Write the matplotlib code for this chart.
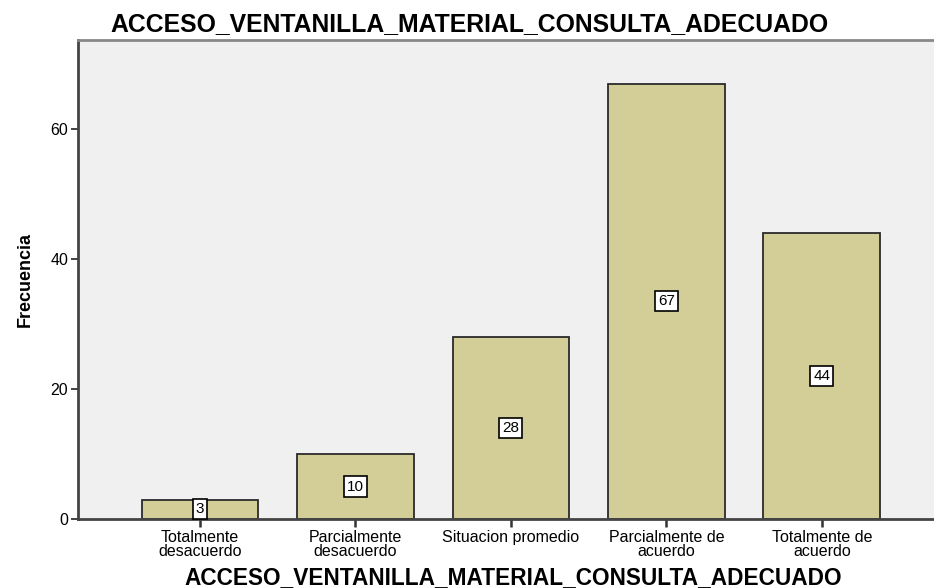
import matplotlib.pyplot as plt

categorias = ["Totalmente\ndesacuerdo", "Parcialmente\ndesacuerdo", "Situacion promedio",
              "Parcialmente de\nacuerdo", "Totalmente de\nacuerdo"]
frecuencias = [3, 10, 28, 67, 44]
titulo = "ACCESO_VENTANILLA_MATERIAL_CONSULTA_ADECUADO"

plt.rcParams['font.family'] = ['Liberation Sans', 'DejaVu Sans']

fig = plt.figure(figsize=(9.34, 5.88), dpi=100)
ax = fig.add_axes([0.0835, 0.1173, 0.927, 0.8147])
ax.set_facecolor("#f0f0f0")

x = list(range(len(categorias)))
ax.bar(x, frecuencias, width=0.75, color="#d3ce97", edgecolor="#2a2a2a", linewidth=1.3, zorder=2)
for xi, v in zip(x, frecuencias):
    ax.text(xi, v / 2, str(v), ha="center", va="center", fontsize=11, zorder=3,
            bbox=dict(boxstyle="square,pad=0.2", facecolor="white", edgecolor="black", linewidth=1.2))

ax.set_xlim(-0.785, 4.785)
ax.set_ylim(0, 73.7)
ax.set_yticks([0, 20, 40, 60])
ax.set_xticks(x)
ax.set_xticklabels(categorias, fontsize=11.5, linespacing=0.88)
ax.tick_params(axis="y", labelsize=11.5, length=5, width=1.3, color="#333333", pad=2)
ax.tick_params(axis="x", length=6, width=1.8, color="#333333", pad=2)

for s in ["left", "bottom"]:
    ax.spines[s].set_color("#444444")
    ax.spines[s].set_linewidth(2)
ax.spines["top"].set_color("#888888")
ax.spines["top"].set_linewidth(2)
ax.spines["right"].set_visible(False)

ax.set_ylabel("Frecuencia", fontsize=13, fontweight="bold", labelpad=12)
fig.text(0.549, 0.017, titulo, ha="center", va="center", fontsize=16.3, fontweight="bold")
fig.text(0.503, 0.96, titulo, ha="center", va="center", fontsize=17.8, fontweight="bold")

fig.savefig("out.png", dpi=100)
